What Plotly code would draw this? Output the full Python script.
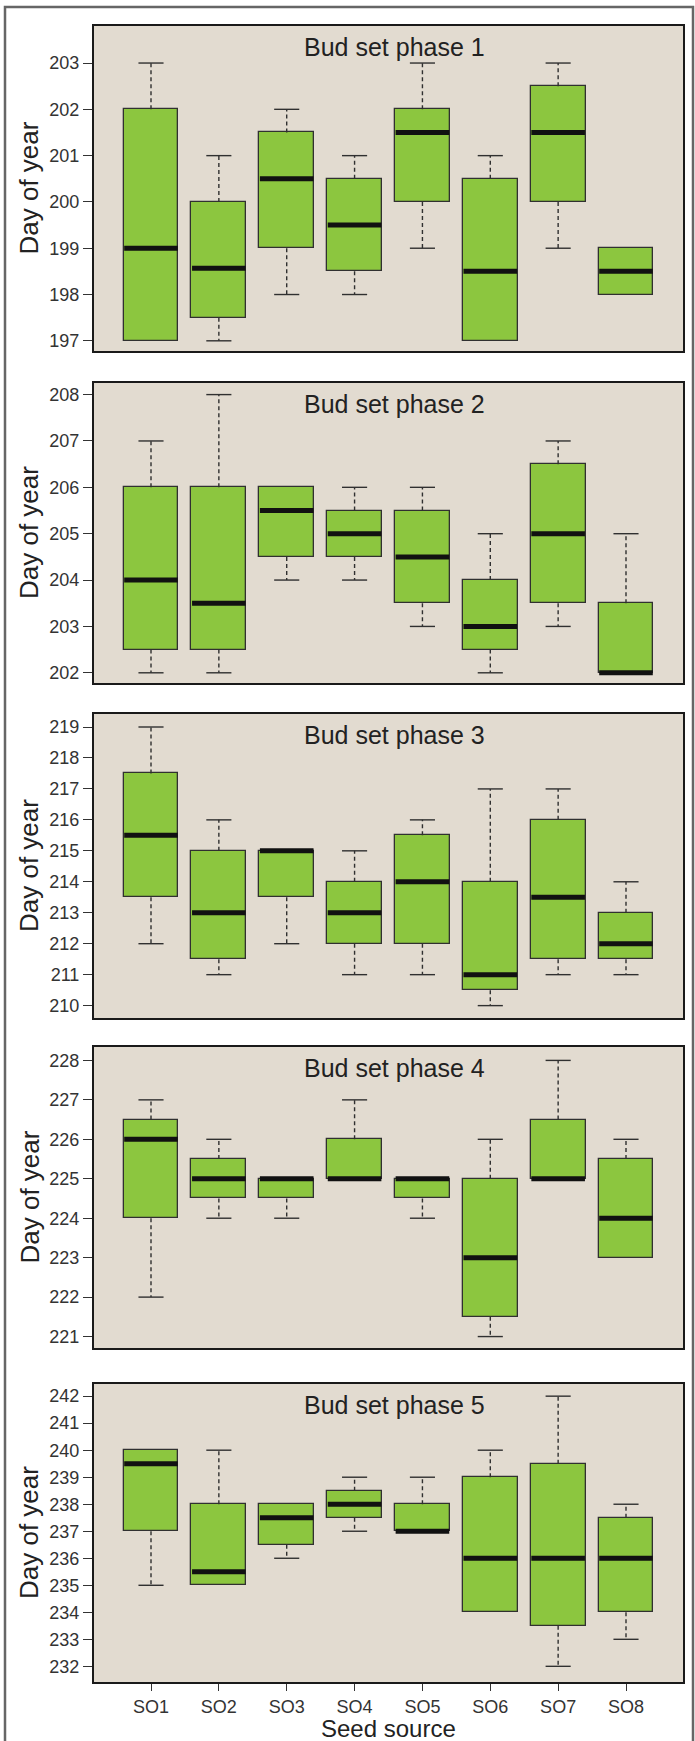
import plotly.graph_objects as go

# ---------------- data ----------------
sources = ["SO1", "SO2", "SO3", "SO4", "SO5", "SO6", "SO7", "SO8"]
phase_titles = ["Bud set phase 1", "Bud set phase 2", "Bud set phase 3",
                "Bud set phase 4", "Bud set phase 5"]

p1_lower = [197, 197, 198, 198, 199, 197, 199, 198]
p1_q1 = [197, 197.5, 199, 198.5, 200, 197, 200, 198]
p1_median = [199, 198.57, 200.5, 199.5, 201.5, 198.5, 201.5, 198.5]
p1_q3 = [202, 200, 201.5, 200.5, 202, 200.5, 202.5, 199]
p1_upper = [203, 201, 202, 201, 203, 201, 203, 199]

p2_lower = [202, 202, 204, 204, 203, 202, 203, 202]
p2_q1 = [202.5, 202.5, 204.5, 204.5, 203.5, 202.5, 203.5, 202]
p2_median = [204, 203.5, 205.5, 205, 204.5, 203, 205, 202]
p2_q3 = [206, 206, 206, 205.5, 205.5, 204, 206.5, 203.5]
p2_upper = [207, 208, 206, 206, 206, 205, 207, 205]

p3_lower = [212, 211, 212, 211, 211, 210, 211, 211]
p3_q1 = [213.5, 211.5, 213.5, 212, 212, 210.5, 211.5, 211.5]
p3_median = [215.5, 213, 215, 213, 214, 211, 213.5, 212]
p3_q3 = [217.5, 215, 215, 214, 215.5, 214, 216, 213]
p3_upper = [219, 216, 215, 215, 216, 217, 217, 214]

p4_lower = [222, 224, 224, 225, 224, 221, 225, 223]
p4_q1 = [224, 224.5, 224.5, 225, 224.5, 221.5, 225, 223]
p4_median = [226, 225, 225, 225, 225, 223, 225, 224]
p4_q3 = [226.5, 225.5, 225, 226, 225, 225, 226.5, 225.5]
p4_upper = [227, 226, 225, 227, 225, 226, 228, 226]

p5_lower = [235, 235, 236, 237, 237, 234, 232, 233]
p5_q1 = [237, 235, 236.5, 237.5, 237, 234, 233.5, 234]
p5_median = [239.5, 235.5, 237.5, 238, 237, 236, 236, 236]
p5_q3 = [240, 238, 238, 238.5, 238, 239, 239.5, 237.5]
p5_upper = [240, 240, 238, 239, 239, 240, 242, 238]

y_ticks = [list(range(197, 204)), list(range(202, 209)), list(range(210, 220)),
           list(range(221, 229)), list(range(232, 243))]
y_ranges = [[196.78, 203.8], [201.78, 208.25], [209.6, 219.42],
            [220.71, 228.34], [231.42, 242.45]]

phases = [
    (p1_lower, p1_q1, p1_median, p1_q3, p1_upper),
    (p2_lower, p2_q1, p2_median, p2_q3, p2_upper),
    (p3_lower, p3_q1, p3_median, p3_q3, p3_upper),
    (p4_lower, p4_q1, p4_median, p4_q3, p4_upper),
    (p5_lower, p5_q1, p5_median, p5_q3, p5_upper),
]

# ---------------- layout constants ----------------
W, H = 695, 1741
frames_px = [(26, 351), (383, 683), (714, 1018), (1047, 1348), (1384, 1682)]
x_left_px, x_right_px = 94, 683
BOX_W = 0.81
CAP_W = 0.37
GREEN = "#8cc63f"
BG = "#e2dbd0"
EDGE = "#303030"
FONT = "Liberation Sans, Arial, sans-serif"

xpos = list(range(1, len(sources) + 1))

fig = go.Figure()
layout = dict(
    width=W, height=H, margin=dict(l=0, r=0, t=0, b=0),
    paper_bgcolor="white", plot_bgcolor=BG, showlegend=False,
    bargap=0, barmode="overlay", font=dict(family=FONT, color="#333"),
)
annotations = []

for k, (lo, q1, med, q3, up) in enumerate(phases):
    n = "" if k == 0 else str(k + 1)
    xa, ya = "x" + n, "y" + n
    # IQR boxes
    fig.add_trace(go.Bar(
        x=xpos, base=q1, y=[b - a for a, b in zip(q1, q3)], width=BOX_W,
        marker=dict(color=GREEN, line=dict(color=EDGE, width=1.3)),
        xaxis=xa, yaxis=ya, hoverinfo="skip"))
    # whiskers (dashed)
    wx, wy = [], []
    for i, x in enumerate(xpos):
        wx += [x, x, None, x, x, None]
        wy += [q3[i], up[i], None, q1[i], lo[i], None]
    fig.add_trace(go.Scatter(x=wx, y=wy, mode="lines", xaxis=xa, yaxis=ya,
                             line=dict(color=EDGE, width=1.4, dash="4px,3px"),
                             hoverinfo="skip"))
    # caps
    cx, cy = [], []
    for i, x in enumerate(xpos):
        if up[i] > q3[i]:
            cx += [x - CAP_W / 2, x + CAP_W / 2, None]
            cy += [up[i], up[i], None]
        if lo[i] < q1[i]:
            cx += [x - CAP_W / 2, x + CAP_W / 2, None]
            cy += [lo[i], lo[i], None]
    fig.add_trace(go.Scatter(x=cx, y=cy, mode="lines", xaxis=xa, yaxis=ya,
                             line=dict(color=EDGE, width=1.4), hoverinfo="skip"))
    # medians
    mx, my = [], []
    for i, x in enumerate(xpos):
        mx += [x - BOX_W / 2 + 0.01, x + BOX_W / 2 - 0.01, None]
        my += [med[i], med[i], None]
    fig.add_trace(go.Scatter(x=mx, y=my, mode="lines", xaxis=xa, yaxis=ya,
                             line=dict(color="#111", width=5), hoverinfo="skip"))

    top_px, bot_px = frames_px[k]
    dom = [1 - bot_px / H, 1 - top_px / H]
    last = k == len(phases) - 1
    layout["xaxis" + n] = dict(
        domain=[x_left_px / W, x_right_px / W], range=[0.16, 8.84],
        anchor=ya, showgrid=False, zeroline=False,
        showline=True, mirror=True, linecolor="#1a1a1a", linewidth=2,
        tickmode="array", tickvals=xpos if last else [],
        ticktext=sources if last else [],
        ticks="outside" if last else "", ticklen=7, tickwidth=1.3, tickcolor="#333",
        tickfont=dict(size=18, color="#333", family=FONT),
    )
    layout["yaxis" + n] = dict(
        domain=dom, range=y_ranges[k], anchor=xa, showgrid=False, zeroline=False,
        showline=True, mirror=True, linecolor="#1a1a1a", linewidth=2,
        tickmode="array", tickvals=y_ticks[k],
        ticks="outside", ticklen=9, tickwidth=1.3, tickcolor="#333",
        tickfont=dict(size=18, color="#333", family=FONT),
    )
    panel_h = bot_px - top_px
    annotations.append(dict(
        text=phase_titles[k], xref=xa + " domain", yref=ya + " domain",
        x=0.51, y=1 - 21 / panel_h, xanchor="center", yanchor="middle",
        showarrow=False, font=dict(size=25, color="#222", family=FONT)))
    annotations.append(dict(
        text="Day of year", xref="paper", yref=ya + " domain",
        x=29 / W, y=0.5, xanchor="center", yanchor="middle", textangle=-90,
        showarrow=False, font=dict(size=26, color="#222", family=FONT)))

annotations.append(dict(
    text="Seed source", xref="paper", yref="paper",
    x=(x_left_px + x_right_px) / 2 / W, y=-3 / H,
    xanchor="center", yanchor="bottom", showarrow=False,
    font=dict(size=24, color="#222", family=FONT)))

layout["annotations"] = annotations
layout["shapes"] = [dict(
    type="rect", xref="paper", yref="paper",
    x0=5 / W, x1=693 / W, y0=-0.02, y1=1 - 7 / H,
    line=dict(color="#666", width=2.5), fillcolor="rgba(0,0,0,0)", layer="below")]

fig.update_layout(**layout)
fig.write_html("out.html", config={"displayModeBar": False},
               post_script="document.body.style.margin='0';document.body.style.padding='0';")
